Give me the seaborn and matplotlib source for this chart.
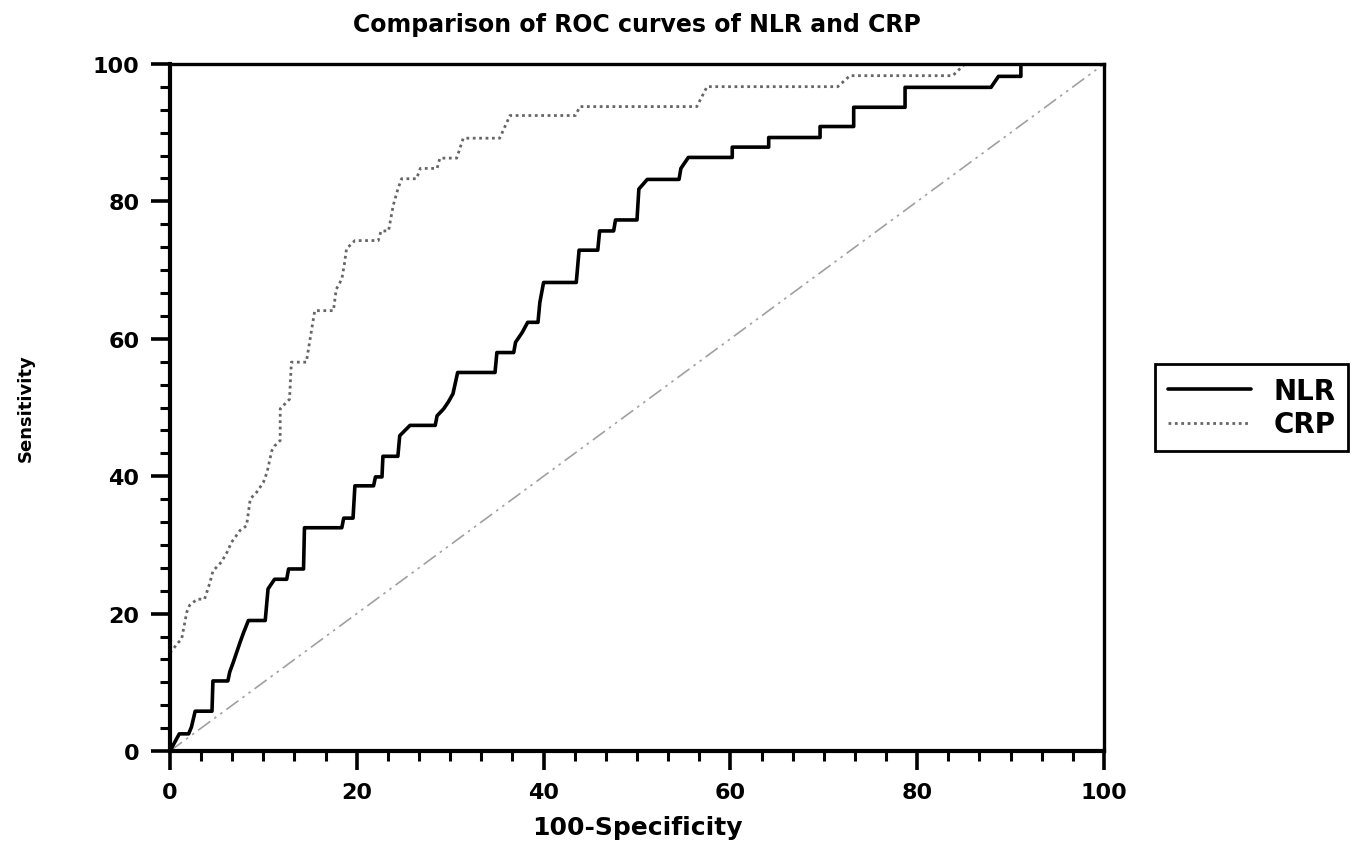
import numpy as np
import pandas as pd
import matplotlib
matplotlib.use('Agg')
import matplotlib.pyplot as plt
import seaborn as sns
from matplotlib.ticker import MultipleLocator

# ROC curve vertices (100-Specificity, Sensitivity)
nlr_fpr = [0, 1.0, 2.0, 2.3, 2.7, 4.5, 4.6, 6.2, 6.4, 6.8, 7.5, 7.9, 8.4, 10.2, 10.5, 11.2,
           12.5, 12.7, 14.3, 14.4, 18.4, 18.6, 19.6, 19.8, 21.8, 22.0, 22.7, 22.8, 24.4, 24.6,
           25.7, 28.4, 28.6, 29.3, 29.8, 30.3, 30.8, 34.8, 35.0, 36.8, 37.0, 37.7, 38.3, 39.4,
           39.6, 40.0, 43.5, 43.8, 45.8, 46.0, 47.5, 47.7, 50.0, 50.2, 51.1, 54.5, 54.7, 55.5,
           60.2, 60.2, 64.1, 64.1, 69.6, 69.6, 73.2, 73.2, 78.7, 78.7, 87.9, 88.7, 91.1, 91.1, 100]
nlr_tpr = [0, 2.5, 2.5, 3.5, 5.8, 5.8, 10.2, 10.2, 11.5, 13.0, 15.8, 17.3, 19.0, 19.0, 23.6, 25.0,
           25.0, 26.5, 26.5, 32.5, 32.5, 33.9, 33.9, 38.6, 38.6, 39.9, 39.9, 42.9, 42.9, 45.9,
           47.4, 47.4, 48.8, 49.8, 50.8, 52.0, 55.1, 55.1, 58.0, 58.0, 59.5, 60.9, 62.4, 62.4,
           65.3, 68.2, 68.2, 72.9, 72.9, 75.7, 75.7, 77.3, 77.3, 81.8, 83.2, 83.2, 84.8, 86.4,
           86.4, 87.9, 87.9, 89.3, 89.3, 90.9, 90.9, 93.7, 93.7, 96.6, 96.6, 98.2, 98.2, 100, 100]

crp_fpr = [0, 0.9, 1.25, 1.8, 2.1, 2.9, 3.7, 4.3, 4.6, 5.5, 6.1, 6.6, 7.5, 8.2, 8.6, 9.3, 10.0,
           10.4, 10.9, 11.2, 11.8, 11.8, 12.5, 12.8, 13.0, 14.6, 15.5, 17.5, 17.8, 18.4, 18.7,
           18.9, 19.8, 22.3, 22.6, 23.4, 23.9, 24.4, 24.8, 26.4, 26.8, 28.6, 28.9, 30.7, 31.4,
           35.3, 36.4, 43.4, 43.9, 56.4, 57.5, 71.5, 72.8, 83.8, 85.1, 100]
crp_tpr = [14.3, 15.8, 16.3, 20.2, 21.2, 22.1, 22.1, 24.6, 26.2, 27.5, 28.9, 30.4, 32.1, 32.8,
           36.7, 37.7, 39.1, 40.6, 43.7, 44.4, 45.2, 49.8, 50.8, 51.2, 56.6, 56.6, 64.1, 64.1,
           67.2, 68.7, 71.1, 73.1, 74.3, 74.3, 75.7, 75.7, 79.4, 81.8, 83.3, 83.3, 84.8, 84.8,
           86.3, 86.3, 89.2, 89.2, 92.5, 92.5, 93.8, 93.8, 96.7, 96.7, 98.3, 98.3, 100, 100]

ref_x = [0, 100]
ref_y = [0, 100]

nlr = pd.DataFrame({'fpr': nlr_fpr, 'tpr': nlr_tpr})
crp = pd.DataFrame({'fpr': crp_fpr, 'tpr': crp_tpr})
ref = pd.DataFrame({'fpr': ref_x, 'tpr': ref_y})

sns.set_style('ticks')
plt.rcParams['font.family'] = ['DejaVu Sans']
plt.rcParams['font.weight'] = 'bold'
plt.rcParams['text.color'] = 'black'
plt.rcParams['axes.labelcolor'] = 'black'
plt.rcParams['xtick.color'] = 'black'
plt.rcParams['ytick.color'] = 'black'

fig = plt.figure(figsize=(13.64, 8.54), dpi=100)
ax = fig.add_axes([0.1246, 0.1194, 0.6848, 0.8045])

sns.lineplot(data=ref, x='fpr', y='tpr', ax=ax, color='#a0a0a0', linewidth=1.2,
             linestyle=(0, (9, 3, 1.5, 3, 1.5, 3)), sort=False, estimator=None)
sns.lineplot(data=crp, x='fpr', y='tpr', ax=ax, color='#666666', linewidth=2,
             linestyle=(0, (1, 1.3)), sort=False, estimator=None, label='CRP')
sns.lineplot(data=nlr, x='fpr', y='tpr', ax=ax, color='black', linewidth=2.6,
             sort=False, estimator=None, label='NLR')

ax.set_xlim(0, 100)
ax.set_ylim(0, 100)
ax.xaxis.set_major_locator(MultipleLocator(20))
ax.yaxis.set_major_locator(MultipleLocator(20))
ax.xaxis.set_minor_locator(MultipleLocator(20 / 6))
ax.yaxis.set_minor_locator(MultipleLocator(20 / 6))
ax.tick_params(which='major', direction='out', length=14, width=2.6, color='black',
               labelcolor='black', labelsize=16, pad=8)
ax.tick_params(which='minor', direction='out', length=7, width=2.2, color='black')
for lab in ax.get_xticklabels() + ax.get_yticklabels():
    lab.set_fontweight('bold')

for side in ['left', 'bottom']:
    ax.spines[side].set_linewidth(3)
for side in ['top', 'right']:
    ax.spines[side].set_linewidth(2.4)
for s in ax.spines.values():
    s.set_color('black')

ax.set_xlabel('100-Specificity', fontsize=18, fontweight='bold', labelpad=10, color='black')
ax.set_ylabel('Sensitivity', fontsize=13, fontweight='bold', labelpad=42, color='black')
ax.set_title('Comparison of ROC curves of NLR and CRP', fontsize=17, fontweight='bold',
             pad=24, color='black')

handles, labels = ax.get_legend_handles_labels()
order = [labels.index('NLR'), labels.index('CRP')]
leg = ax.legend([handles[i] for i in order], [labels[i] for i in order],
                loc='center left', bbox_to_anchor=(1.055, 0.5), frameon=True, fancybox=False,
                framealpha=1, fontsize=20, handlelength=3.0, handletextpad=0.8,
                borderpad=0.45, labelspacing=0.2, borderaxespad=0)
leg.get_frame().set_edgecolor('black')
leg.get_frame().set_linewidth(2)
for t in leg.get_texts():
    t.set_fontweight('bold')
    t.set_color('black')

fig.savefig('out.png', dpi=100)
